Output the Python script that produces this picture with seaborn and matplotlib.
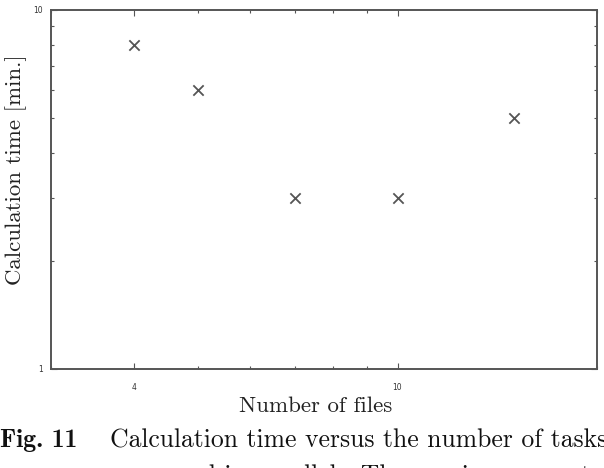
import matplotlib
matplotlib.use("Agg")
import matplotlib.pyplot as plt
import seaborn as sns
import pandas as pd
from matplotlib.ticker import FixedLocator, NullFormatter, LogLocator, FixedFormatter

num_files = [4, 5, 7, 10, 15]
calc_time = [8, 6, 3, 3, 5]
x_tick_vals = [4, 10]
x_tick_labels = ["4", "10"]
y_tick_vals = [1, 10]
y_tick_labels = ["1", "10"]

df = pd.DataFrame({"files": num_files, "time": calc_time})

sns.set_style("ticks")
plt.rcParams["axes.formatter.use_mathtext"] = True

fig = plt.figure(figsize=(6.04, 4.68), dpi=100)
ax = fig.add_axes([51/604, 1 - 369/468, (597-51)/604, (369-10)/468])

sns.scatterplot(data=df, x="files", y="time", ax=ax, marker="x", s=55,
                color="#555555", linewidth=1.3)

ax.set_xscale("log")
ax.set_yscale("log")
ax.set_xlim(3, 20)
ax.set_ylim(1, 10)

ax.xaxis.set_major_locator(FixedLocator(x_tick_vals))
ax.xaxis.set_major_formatter(FixedFormatter(x_tick_labels))
ax.xaxis.set_minor_locator(LogLocator(base=10, subs=range(1, 10)))
ax.xaxis.set_minor_formatter(NullFormatter())
ax.yaxis.set_major_locator(FixedLocator(y_tick_vals))
ax.yaxis.set_major_formatter(FixedFormatter(y_tick_labels))
ax.yaxis.set_minor_locator(LogLocator(base=10, subs=range(1, 10)))
ax.yaxis.set_minor_formatter(NullFormatter())

for sp in ax.spines.values():
    sp.set_color("#555555")
    sp.set_linewidth(1.4)

ax.tick_params(which="both", direction="in", top=True, right=True,
               color="#555555", width=0.8)
ax.tick_params(which="major", length=4, labelsize=5.5, labelcolor="#333333")
ax.tick_params(which="minor", length=2.5)
ax.tick_params(axis="x", which="major", pad=10)
ax.tick_params(axis="y", which="major", pad=6)
for lab in ax.get_xticklabels() + ax.get_yticklabels():
    lab.set_family("DejaVu Sans")

ax.set_xlabel("Number of files", family="cmr10", fontsize=16.5, color="#222222")
ax.xaxis.set_label_coords((316 - 51) / 546, -(396 - 369) / 359)
ax.set_ylabel("Calculation time [min.]", family="cmr10", fontsize=16.5, color="#222222")
ax.yaxis.set_label_coords(-(51 - 27) / 546, (369 - 170) / 359)

fig.text(0.0, 1 - 441/468, "Fig. 11", family="cmb10", fontsize=18.5, va="center", ha="left", color="#111111")
fig.text(110/604, 1 - 441/468, "Calculation time versus the number of tasks", family="cmr10",
         fontsize=18.5, va="center", ha="left", color="#111111")
fig.text(110/604, 1 - 476/468, "processed in parallel.  The y-axis represents", family="cmr10",
         fontsize=18.5, va="center", ha="left", color="#111111")

fig.savefig("out.png", dpi=100)
